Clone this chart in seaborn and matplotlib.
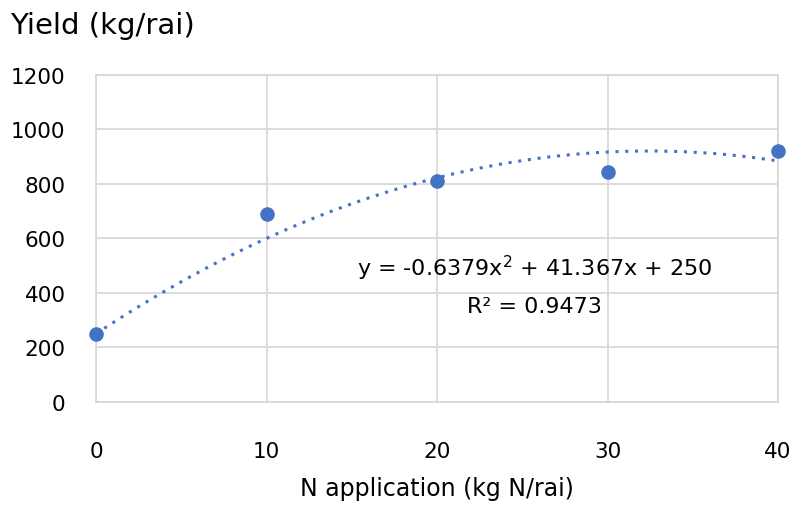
import numpy as np
import pandas as pd
import matplotlib
matplotlib.use("Agg")
import matplotlib.pyplot as plt
import seaborn as sns

# Data
n_rate = [0, 10, 20, 30, 40]
yield_kg = [250, 690, 810, 845, 920]

# Trendline coefficients as printed on the chart
coef = [-0.6379, 41.367, 250]
r2 = 0.9473

df = pd.DataFrame({"N": n_rate, "Yield": yield_kg})

sns.set_style("white")
plt.rcParams["font.family"] = ["DejaVu Sans"]
plt.rcParams["text.color"] = "black"
plt.rcParams["xtick.color"] = "black"
plt.rcParams["ytick.color"] = "black"
plt.rcParams["axes.labelcolor"] = "black"

fig = plt.figure(figsize=(7.94, 5.06), dpi=100)
ax = fig.add_axes([0.121, 0.204, 0.859, 0.646])

blue = "#4472C4"

# quadratic trendline
xs = np.linspace(min(n_rate), max(n_rate), 200)
ax.plot(xs, np.polyval(coef, xs), linestyle=(0, (1, 2.2)), color=blue, linewidth=2.2, zorder=2)

sns.scatterplot(data=df, x="N", y="Yield", ax=ax, s=110, color=blue,
                edgecolor=blue, linewidth=0, zorder=3, clip_on=False)

ax.set_xlim(0, 40)
ax.set_ylim(0, 1200)
ax.set_xticks([0, 10, 20, 30, 40])
ax.set_yticks(range(0, 1201, 200))
ax.grid(True, color="#d9d9d9", linewidth=1.3)
ax.set_axisbelow(True)
for s in ax.spines.values():
    s.set_color("#d9d9d9")
    s.set_linewidth(1.3)

ax.tick_params(axis="x", length=0, pad=28, labelsize=15.5)
ax.tick_params(axis="y", length=0, pad=22, labelsize=15.5)
ax.set_xlabel("N application (kg N/rai)", fontsize=17, labelpad=11)
ax.set_ylabel("")

fig.text(0.013, 0.948, "Yield (kg/rai)", fontsize=21, va="center", ha="left")

ax.text(25.7, 495, "y = -0.6379x$^{2}$ + 41.367x + 250", fontsize=16,
        ha="center", va="center")
ax.text(25.7, 350, f"R² = {r2}", fontsize=16, ha="center", va="center")

fig.savefig("out.png", dpi=100, facecolor="white")
